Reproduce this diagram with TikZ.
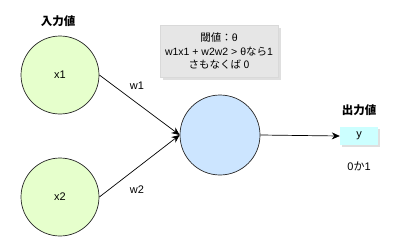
\documentclass[tikz,border=0pt]{standalone}
\usepackage{fontspec}
\setmainfont{Liberation Sans}
\newfontfamily\jpfont{Noto Sans CJK JP}
\usepackage{tikz}
\usetikzlibrary{arrows.meta,shadows}
\definecolor{inputgreen}{HTML}{E6FFCC}
\definecolor{neuronblue}{HTML}{CCE5FF}
\definecolor{outcyan}{HTML}{CCFFFF}
\definecolor{notegray}{HTML}{E6E6E6}

\begin{document}
\begin{tikzpicture}[
  x=1pt, y=-1pt,
  unit/.style={circle, draw=black!85, fill=#1, line width=0.7pt, minimum size=78pt, inner sep=0pt, font=\fontsize{11}{13}\selectfont},
  tag/.style={font=\jpfont\bfseries\fontsize{11.5}{13}\selectfont},
  plain/.style={font=\fontsize{11}{13}\selectfont},
  arr/.style={-{Stealth[length=8pt,width=7pt]}, line width=0.7pt}
]
  \useasboundingbox (0,0) rectangle (404,249);
  % inputs
  \node[tag] (intag) at (58,21) {入力値};
  \node[unit=inputgreen] (x1) at (60,75) {x1};
  \node[unit=inputgreen] (x2) at (60,197) {x2};
  % neuron and threshold note
  \node[unit=neuronblue, minimum size=80pt] (neuron) at (220,135) {};
  \node[fill=notegray, draw=black!15, drop shadow={shadow xshift=2.5pt, shadow yshift=-2.5pt, fill=black!25}, minimum width=118pt, minimum height=52pt, align=center, font=\fontsize{10.5}{13.5}\selectfont] (note) at (219,51)
    {{\jpfont 閾値：}θ\\w1x1 + w2w2 > θ{\jpfont なら}1\\{\jpfont さもなくば 0}};
  % output
  \node[tag] (outtag) at (359,110) {出力値};
  \node[fill=outcyan, drop shadow={shadow xshift=2pt, shadow yshift=-2pt, fill=black!25}, minimum width=38pt, minimum height=18pt, plain] (y) at (359,136) {y};
  \node[plain] (range) at (359,166) {0{\jpfont か}1};
  % weights
  \node[plain] (w1) at (137,86) {w1};
  \node[plain] (w2) at (137,190) {w2};
  \draw[arr] (x1.east) -- (neuron.west);
  \draw[arr] (x2.east) -- (neuron.west);
  \draw[arr] (neuron.east) -- (y.west);
\end{tikzpicture}
\end{document}
